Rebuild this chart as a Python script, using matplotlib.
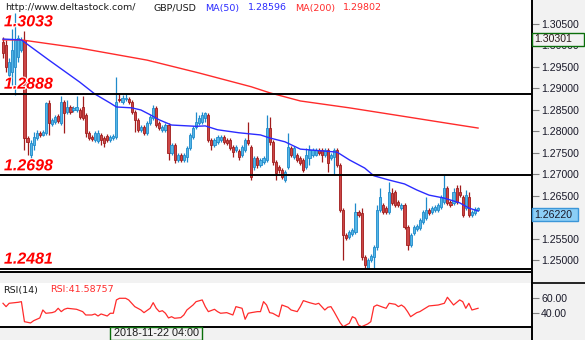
import matplotlib
matplotlib.use("Agg")
import matplotlib.pyplot as plt
import numpy as np
from matplotlib import patheffects as pe
from matplotlib.lines import Line2D
from matplotlib.patches import Rectangle
from matplotlib.ticker import FormatStrFormatter
from matplotlib.transforms import blended_transform_factory

# GBP/USD 4h bars
opens = [1.3008, 1.3001, 1.2932, 1.2939, 1.2950, 1.2973, 1.2990, 1.3013, 1.2785, 1.2745,
         1.2769, 1.2785, 1.2797, 1.2792, 1.2797, 1.2866, 1.2818, 1.2822, 1.2836, 1.2820, 1.2869,
         1.2845, 1.2857, 1.2850, 1.2850, 1.2850, 1.2857, 1.2839, 1.2797, 1.2787, 1.2780,
         1.2778, 1.2792, 1.2785, 1.2790, 1.2780, 1.2785, 1.2787, 1.2876, 1.2869, 1.2876,
         1.2876, 1.2869, 1.2845, 1.2827, 1.2804, 1.2811, 1.2797, 1.2820, 1.2832, 1.2855,
         1.2820, 1.2804, 1.2804, 1.2815, 1.2750, 1.2769, 1.2734, 1.2745, 1.2734, 1.2741,
         1.2762, 1.2787, 1.2811, 1.2820, 1.2822, 1.2832, 1.2839, 1.2780, 1.2769, 1.2776,
         1.2780, 1.2787, 1.2780, 1.2780, 1.2764, 1.2757, 1.2755, 1.2745, 1.2757, 1.2780,
         1.2764, 1.2718, 1.2738, 1.2722, 1.2729, 1.2734, 1.2808, 1.2776, 1.2729, 1.2718,
         1.2711, 1.2687, 1.2718, 1.2762, 1.2741, 1.2745, 1.2738, 1.2734, 1.2718, 1.2738,
         1.2745, 1.2745, 1.2757, 1.2757, 1.2745, 1.2757, 1.2738, 1.2741, 1.2757, 1.2722,
         1.2618, 1.2559, 1.2555, 1.2562, 1.2566, 1.2613, 1.2611, 1.2508, 1.2483, 1.2501,
         1.2508, 1.2532, 1.2618, 1.2629, 1.2622, 1.2613, 1.2657, 1.2659,
         1.2636, 1.2622, 1.2629, 1.2578, 1.2536, 1.2564, 1.2573, 1.2576,
         1.2590, 1.2599, 1.2618, 1.2613, 1.2618, 1.2618, 1.2625, 1.2636,
         1.2669, 1.2636, 1.2634, 1.2669, 1.2659, 1.2648, 1.2622,
         1.2648, 1.2606, 1.2611, 1.2618]
highs = [1.3020, 1.3013, 1.2971, 1.3039, 1.3076, 1.3025, 1.3020, 1.3033, 1.2790, 1.2780,
         1.2799, 1.2804, 1.2801, 1.2804, 1.2869, 1.2873, 1.2832, 1.2839, 1.2841, 1.2883, 1.2873,
         1.2873, 1.2862, 1.2859, 1.2883, 1.2855, 1.2883, 1.2843, 1.2801, 1.2792, 1.2801,
         1.2804, 1.2797, 1.2790, 1.2794, 1.2792, 1.2794, 1.2927, 1.2890, 1.2885, 1.2887,
         1.2880, 1.2873, 1.2850, 1.2832, 1.2815, 1.2815, 1.2825, 1.2839, 1.2862, 1.2859,
         1.2825, 1.2815, 1.2820, 1.2820, 1.2773, 1.2773, 1.2750, 1.2750, 1.2750, 1.2766,
         1.2797, 1.2813, 1.2845, 1.2839, 1.2845, 1.2845, 1.2843, 1.2785, 1.2785, 1.2792,
         1.2792, 1.2792, 1.2785, 1.2785, 1.2769, 1.2769, 1.2759, 1.2769, 1.2785, 1.2822,
         1.2769, 1.2743, 1.2743, 1.2738, 1.2743, 1.2839, 1.2834, 1.2780, 1.2734, 1.2722,
         1.2715, 1.2711, 1.2797, 1.2766, 1.2766, 1.2750, 1.2743, 1.2738, 1.2762, 1.2769,
         1.2762, 1.2762, 1.2762, 1.2762, 1.2762, 1.2762, 1.2750, 1.2762, 1.2762, 1.2727,
         1.2622, 1.2564, 1.2571, 1.2576, 1.2634, 1.2618, 1.2622, 1.2513, 1.2506, 1.2515,
         1.2536, 1.2629, 1.2669, 1.2634, 1.2627, 1.2683, 1.2669, 1.2664,
         1.2641, 1.2634, 1.2634, 1.2583, 1.2564, 1.2583, 1.2585, 1.2599,
         1.2618, 1.2648, 1.2622, 1.2627, 1.2629, 1.2634, 1.2652, 1.2699,
         1.2673, 1.2641, 1.2669, 1.2676, 1.2676, 1.2652, 1.2664,
         1.2659, 1.2618, 1.2625, 1.2625]
lows = [1.2971, 1.2939, 1.2904, 1.2908, 1.2885, 1.2962, 1.2985, 1.2757, 1.2745, 1.2734,
        1.2757, 1.2780, 1.2787, 1.2790, 1.2792, 1.2792, 1.2813, 1.2818, 1.2820, 1.2815, 1.2797,
        1.2841, 1.2841, 1.2845, 1.2845, 1.2829, 1.2827, 1.2787, 1.2780, 1.2778, 1.2776,
        1.2773, 1.2769, 1.2764, 1.2776, 1.2776, 1.2780, 1.2783, 1.2869, 1.2864, 1.2871,
        1.2864, 1.2841, 1.2799, 1.2799, 1.2799, 1.2792, 1.2792, 1.2815, 1.2827, 1.2811,
        1.2804, 1.2799, 1.2799, 1.2734, 1.2745, 1.2727, 1.2729, 1.2729, 1.2729, 1.2729,
        1.2757, 1.2783, 1.2806, 1.2815, 1.2818, 1.2822, 1.2776, 1.2757, 1.2764, 1.2771,
        1.2776, 1.2771, 1.2769, 1.2757, 1.2741, 1.2752, 1.2734, 1.2741, 1.2752, 1.2769,
        1.2687, 1.2711, 1.2715, 1.2718, 1.2725, 1.2729, 1.2769, 1.2722, 1.2687, 1.2704,
        1.2690, 1.2683, 1.2713, 1.2741, 1.2736, 1.2729, 1.2722, 1.2706, 1.2713, 1.2722,
        1.2741, 1.2743, 1.2745, 1.2729, 1.2741, 1.2706, 1.2734, 1.2699, 1.2718, 1.2613,
        1.2501, 1.2548, 1.2550, 1.2557, 1.2562, 1.2601, 1.2501, 1.2483, 1.2483, 1.2497,
        1.2481, 1.2525, 1.2613, 1.2608, 1.2608, 1.2608, 1.2629, 1.2625,
        1.2625, 1.2618, 1.2573, 1.2525, 1.2532, 1.2559, 1.2569, 1.2571,
        1.2585, 1.2594, 1.2606, 1.2608, 1.2613, 1.2613, 1.2620, 1.2631,
        1.2629, 1.2625, 1.2629, 1.2631, 1.2648, 1.2601, 1.2618,
        1.2601, 1.2601, 1.2606, 1.2615]
closes = [1.2983, 1.2950, 1.2962, 1.2990, 1.3013, 1.3018, 1.3013, 1.2785, 1.2776, 1.2773,
          1.2787, 1.2797, 1.2792, 1.2799, 1.2866, 1.2820, 1.2827, 1.2834, 1.2825, 1.2869, 1.2843,
          1.2857, 1.2845, 1.2855, 1.2857, 1.2834, 1.2832, 1.2797, 1.2785, 1.2783, 1.2797,
          1.2797, 1.2780, 1.2773, 1.2780, 1.2787, 1.2790, 1.2869, 1.2873, 1.2878, 1.2878,
          1.2869, 1.2845, 1.2827, 1.2804, 1.2811, 1.2797, 1.2820, 1.2834, 1.2855, 1.2815,
          1.2808, 1.2811, 1.2815, 1.2750, 1.2769, 1.2734, 1.2745, 1.2734, 1.2745, 1.2762,
          1.2792, 1.2808, 1.2822, 1.2832, 1.2839, 1.2843, 1.2780, 1.2769, 1.2780, 1.2787,
          1.2787, 1.2776, 1.2773, 1.2762, 1.2752, 1.2764, 1.2741, 1.2764, 1.2780, 1.2773,
          1.2694, 1.2738, 1.2722, 1.2734, 1.2738, 1.2808, 1.2776, 1.2729, 1.2704, 1.2711,
          1.2694, 1.2706, 1.2764, 1.2745, 1.2762, 1.2734, 1.2727, 1.2711, 1.2745, 1.2757,
          1.2757, 1.2757, 1.2750, 1.2745, 1.2757, 1.2727, 1.2745, 1.2757, 1.2722, 1.2618,
          1.2559, 1.2552, 1.2566, 1.2571, 1.2613, 1.2606, 1.2508, 1.2490, 1.2501, 1.2511,
          1.2532, 1.2618, 1.2648, 1.2613, 1.2613, 1.2659, 1.2634, 1.2629,
          1.2629, 1.2629, 1.2578, 1.2536, 1.2559, 1.2578, 1.2580, 1.2594,
          1.2613, 1.2618, 1.2611, 1.2622, 1.2625, 1.2629, 1.2648, 1.2669,
          1.2634, 1.2629, 1.2659, 1.2636, 1.2652, 1.2606, 1.2652,
          1.2606, 1.2613, 1.2620, 1.2622]

# moving averages, read at a handful of bars
ma50_bar = [0, 6, 15, 25, 30, 35, 37, 42, 45, 48, 51, 55, 63, 66, 70, 77, 84, 87,
            92, 97, 109, 113, 118, 121, 126, 131, 135, 139, 144, 149, 152, 155]
ma50_val = [1.3015, 1.3013, 1.2966, 1.2915, 1.2887, 1.2866, 1.2857, 1.2855, 1.2850,
            1.2839, 1.2827, 1.2815, 1.2812, 1.2813, 1.2804, 1.2797, 1.2792, 1.2785,
            1.2776, 1.2759, 1.2752, 1.2734, 1.2715, 1.2697, 1.2687, 1.2678, 1.2664,
            1.2652, 1.2645, 1.2634, 1.2622, 1.2615]
ma200_bar = [0, 6, 25, 47, 64, 81, 87, 97, 113, 130, 146, 155]
ma200_val = [1.3013, 1.3013, 1.2994, 1.2966, 1.2936, 1.2904, 1.2890, 1.2871,
             1.2855, 1.2836, 1.2818, 1.2808]

rsi_bar = [0, 1, 2, 5, 6, 7, 9, 10, 12, 13, 14, 16, 17, 18, 19, 20, 21, 24, 26, 27,
           29, 30, 31, 32, 34, 35, 36, 37, 38, 40, 41, 43, 45, 46, 48, 49, 50, 51, 52, 53,
           54, 55, 56, 58, 59, 60, 62, 63, 65, 66, 67, 69, 70, 71, 73, 75, 76, 78, 79, 80,
           81, 83, 84, 85, 86, 87, 88, 90, 91, 93, 94, 96, 97, 98, 100, 102, 103, 105, 106, 107,
           108, 110, 111, 112, 113, 114, 115, 116, 117, 119, 120, 121, 122, 124, 125, 126, 128, 129, 130, 131,
           132, 133, 135, 136, 139, 142, 144, 145, 147, 149, 150, 151, 152, 153, 155]
rsi_val = [52.8, 48.5, 52.8, 54.1, 54.9, 29.2, 27.6, 30.5, 34.0, 44.2, 40.0, 40.8, 42.1, 46.4, 42.1, 45.1, 46.4, 45.1, 42.1, 37.8,
           37.8, 39.1, 36.5, 39.1, 36.5, 40.0, 40.0, 57.1, 59.2, 59.2, 57.1, 48.5, 44.2, 40.8, 46.4, 53.6, 46.4, 42.1, 43.3, 40.0,
           34.0, 35.6, 33.6, 34.4, 37.8, 44.2, 50.6, 54.9, 57.1, 48.5, 42.1, 45.1, 42.1, 40.0, 40.8, 37.8, 48.5, 46.4, 32.3, 40.0,
           40.8, 42.1, 42.1, 54.9, 50.6, 40.8, 40.0, 35.6, 50.6, 47.7, 44.2, 42.1, 48.5, 56.2, 53.6, 51.5, 52.8, 44.2, 47.7, 48.5,
           42.1, 27.9, 22.8, 25.0, 27.2, 35.6, 33.6, 25.0, 22.8, 26.3, 29.2, 48.5, 50.6, 47.7, 46.4, 52.8, 51.5, 48.5, 50.6, 47.7,
           42.1, 35.6, 40.8, 42.1, 49.4, 50.6, 52.8, 60.5, 50.6, 57.1, 54.9, 46.4, 52.8, 44.2, 46.4]

levels = [1.3033, 1.2888, 1.2698, 1.2481]
level_lines = [1.2888, 1.2698, 1.2481]
price_ticks = [1.250, 1.255, 1.265, 1.270, 1.275, 1.280, 1.285, 1.290, 1.295, 1.300, 1.305]
rsi_ticks = [40, 60]

W, H = 585, 340
BG = '#f2f2f2'
UP_FILL, UP_EDGE = '#55b6e6', '#1f8acb'
DN_FILL, DN_EDGE = '#cc4646', '#a01c1c'
TICK_FONT = 'Liberation Sans'
TEXT_FONT = 'DejaVu Sans'
XLIM = (-0.98, 172.6)


def px_box(x0, y0, x1, y1):
    return [x0 / W, 1 - y1 / H, (x1 - x0) / W, (y1 - y0) / H]


def right_scale(a, ticks, fmt):
    a.set_xlim(*XLIM)
    a.set_xticks([])
    a.yaxis.tick_right()
    a.set_yticks(ticks)
    a.yaxis.set_major_formatter(FormatStrFormatter(fmt))
    a.tick_params(axis='y', length=5, width=0.8, color='#808080', pad=1.5,
                  labelsize=7.6, labelcolor='#1a1a2a')
    for lbl in a.get_yticklabels():
        lbl.set_family(TICK_FONT)
    for side in ['top', 'left', 'right']:
        a.spines[side].set_visible(False)
    a.spines['bottom'].set_color('black')
    a.spines['bottom'].set_linewidth(1.4)


fig = plt.figure(figsize=(W / 100, H / 100), dpi=100, facecolor=BG)
ax = fig.add_axes(px_box(0, 0, 532, 272))
ax_rsi = fig.add_axes(px_box(0, 283, 532, 327))

o = np.array(opens)
c = np.array(closes)
x = np.arange(len(c))
up = c >= o
fill = np.where(up, UP_FILL, DN_FILL)
edge = np.where(up, UP_EDGE, DN_EDGE)

ax.vlines(x, lows, highs, colors=edge, lw=0.9, zorder=2)
ax.bar(x, np.maximum(np.abs(c - o), 0.00007), bottom=np.minimum(o, c), width=0.7,
       color=fill, edgecolor=edge, linewidth=0.6, zorder=3)

ax.plot(ma200_bar, ma200_val, color='#ff2b2b', lw=1.0, zorder=4)
ax.plot(ma50_bar, ma50_val, color='#2b2bff', lw=1.0, zorder=4)

for lv in level_lines:
    ax.axhline(lv, color='black', lw=1.4, zorder=5)
for lv in levels:
    ax.annotate(f'{lv:.4f}', xy=(0, lv), xycoords=('axes fraction', 'data'),
                xytext=(4, 5), textcoords='offset pixels', va='baseline', ha='left',
                color='#ff0000', fontsize=11.5, fontweight='bold', fontstyle='italic',
                family='Liberation Sans', zorder=6,
                path_effects=[pe.withStroke(linewidth=1.5, foreground='white')])

ax.set_ylim(1.24732, 1.31058)
right_scale(ax, price_ticks, '%.5f')

# RSI pane
ax_rsi.plot(rsi_bar, rsi_val, color='#ff2b2b', lw=0.9)
ax_rsi.set_ylim(22.4, 78.8)
right_scale(ax_rsi, rsi_ticks, '%.2f')

# frame lines of the price scale
fig.add_artist(Line2D([531.5 / W] * 2, [0, 1], transform=fig.transFigure, color='black', lw=1.4))
fig.add_artist(Line2D([532 / W, 1], [1 - 283 / H] * 2, transform=fig.transFigure, color='black', lw=1.2))

# header
hdr = [(5, 'http://www.deltastock.com/', '#1a1a1a'), (153, 'GBP/USD', '#1a1a1a'),
       (205, 'MA(50)', '#2b2bff'), (248, '1.28596', '#2b2bff'),
       (295, 'MA(200)', '#ff2b2b'), (343, '1.29802', '#ff2b2b')]
for hx, txt, col in hdr:
    fig.text(hx / W, 1 - 8 / H, txt, color=col, fontsize=6.8, family=TEXT_FONT,
             ha='left', va='center')
fig.text(3 / W, 1 - 290 / H, 'RSI(14)', color='#1a1a1a', fontsize=6.8, family=TEXT_FONT,
         ha='left', va='center')
fig.text(50 / W, 1 - 290 / H, 'RSI:41.58757', color='#ff2b2b', fontsize=6.8, family=TEXT_FONT,
         ha='left', va='center')

# price markers on the scale
scale_tr = blended_transform_factory(fig.transFigure, ax.transData)
box_h = 13.4 * (1.31058 - 1.24732) / 272
cursor_price = 1.30301
fig.add_artist(Rectangle((532 / W, cursor_price - box_h), 52 / W, box_h, transform=scale_tr,
                         facecolor=BG, edgecolor='#0a6e0a', lw=1.0, zorder=5))
fig.text(534 / W, cursor_price - box_h / 2, f'{cursor_price:.5f}', transform=scale_tr,
         fontsize=7.6, family=TICK_FONT, color='#2a1a1a', ha='left', va='center', zorder=6)
last = closes[-1]
fig.add_artist(Rectangle((532 / W, last - box_h), 46 / W, box_h, transform=scale_tr,
                         facecolor='#8ccff6', edgecolor='#3b96d8', lw=1.0, zorder=5))
fig.text(534 / W, last - box_h / 2, f'{last:.5f}', transform=scale_tr,
         fontsize=7.6, family=TICK_FONT, color='#1a1a2a', ha='left', va='center', zorder=6)

# time marker
fig.add_artist(Rectangle((110 / W, 0), 92 / W, 13 / H, transform=fig.transFigure,
                         facecolor=BG, edgecolor='#0a6e0a', lw=1.0))
fig.text(156 / W, 6.5 / H, '2018-11-22 04:00', fontsize=7.8, family=TICK_FONT,
         color='#1a1a1a', ha='center', va='center')

fig.savefig('out.png', dpi=100, facecolor=BG)
